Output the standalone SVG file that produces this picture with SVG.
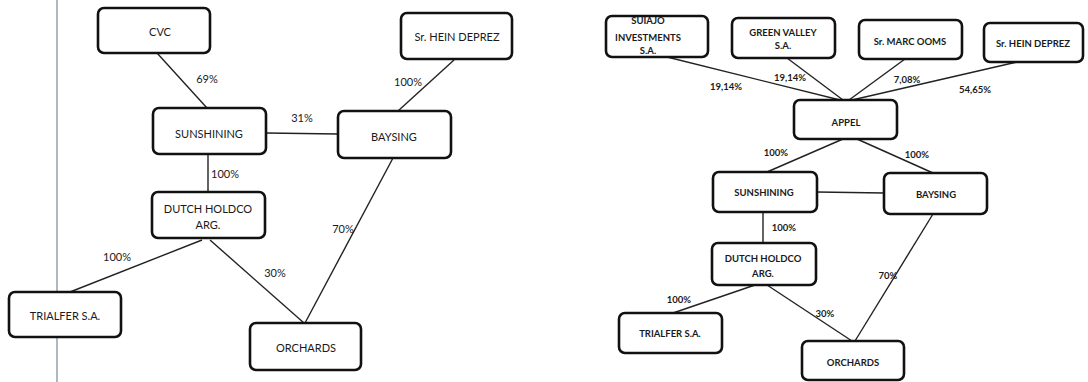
<svg xmlns="http://www.w3.org/2000/svg" width="1088" height="382" viewBox="0 0 1088 382">
<style>
.box{fill:#fff;stroke:#111;stroke-width:2.6}
.ln{stroke:#222;stroke-width:1.4;fill:none}
text{font-family:Lato,"Open Sans","Liberation Sans",sans-serif;fill:#1a1a1a;text-anchor:middle;dominant-baseline:central}
.l{font-size:11px}
.r{font-size:9.5px;font-weight:bold}
</style>
<rect width="1088" height="382" fill="#fff"/>
<line x1="57" y1="0" x2="57" y2="382" stroke="#9aa6b6" stroke-width="1.6"/>
<g id="connectors">
<line class="ln" x1="157" y1="53" x2="207" y2="108"/>
<line class="ln" x1="454" y1="60" x2="398" y2="111"/>
<line class="ln" x1="266" y1="133" x2="338" y2="134"/>
<line class="ln" x1="208" y1="154" x2="208" y2="192"/>
<line class="ln" x1="393" y1="158" x2="305" y2="323"/>
<line class="ln" x1="202" y1="240" x2="70" y2="292"/>
<line class="ln" x1="210" y1="240" x2="304" y2="323"/>
<line class="ln" x1="667" y1="57" x2="840" y2="100"/>
<line class="ln" x1="787" y1="58" x2="843" y2="100"/>
<line class="ln" x1="905" y1="59" x2="849" y2="100"/>
<line class="ln" x1="1017" y1="62" x2="852" y2="100"/>
<line class="ln" x1="843" y1="139" x2="767" y2="172"/>
<line class="ln" x1="857" y1="139" x2="933" y2="173"/>
<line class="ln" x1="817" y1="192" x2="884" y2="193"/>
<line class="ln" x1="763" y1="212" x2="763" y2="243"/>
<line class="ln" x1="933" y1="214" x2="855" y2="341"/>
<line class="ln" x1="755" y1="285" x2="673" y2="313"/>
<line class="ln" x1="767" y1="285" x2="852" y2="341"/>
<g class="l">
<text x="207" y="78">69%</text>
<text x="408" y="81">100%</text>
<text x="302" y="117">31%</text>
<text x="225" y="173">100%</text>
<text x="343" y="228">70%</text>
<text x="117" y="256">100%</text>
<text x="275" y="272">30%</text>
</g>
<g class="r">
<text x="726" y="86">19,14%</text>
<text x="790" y="77">19,14%</text>
<text x="907" y="79">7,08%</text>
<text x="975" y="89">54,65%</text>
<text x="776" y="152">100%</text>
<text x="917" y="154">100%</text>
<text x="784" y="227">100%</text>
<text x="888" y="275">70%</text>
<text x="679" y="299">100%</text>
<text x="825" y="313">30%</text>
</g>
</g>
<g id="L-cvc"><rect class="box" x="98" y="8" width="112" height="45" rx="6"/><text class="l" x="160" y="31">CVC</text></g>
<g id="L-hein"><rect class="box" x="401" y="13" width="111" height="46" rx="6"/><text class="l" x="457" y="36">Sr. HEIN DEPREZ</text></g>
<g id="L-sunshining"><rect class="box" x="153" y="108" width="113" height="46" rx="6"/><text class="l" x="209" y="133">SUNSHINING</text></g>
<g id="L-baysing"><rect class="box" x="338" y="111" width="113" height="47" rx="6"/><text class="l" x="394" y="136">BAYSING</text></g>
<g id="L-dutch"><rect class="box" x="152" y="192" width="113" height="46" rx="6"/><text class="l" x="208" y="208">DUTCH HOLDCO</text><text class="l" x="208" y="224">ARG.</text></g>
<g id="L-trialfer"><rect class="box" x="9" y="292" width="112" height="45" rx="6"/><text class="l" x="65" y="315">TRIALFER S.A.</text></g>
<g id="L-orchards"><rect class="box" x="250" y="323" width="111" height="47" rx="6"/><text class="l" x="306" y="347">ORCHARDS</text></g>
<g id="R-suiajo"><rect class="box" x="606" y="16" width="102" height="41" rx="6"/><text class="r" x="648" y="20">SUIAJO</text><text class="r" x="648" y="37">INVESTMENTS</text><text class="r" x="648" y="50">S.A.</text></g>
<g id="R-green"><rect class="box" x="732" y="18" width="103" height="40" rx="6"/><text class="r" x="783" y="32">GREEN VALLEY</text><text class="r" x="783" y="45">S.A.</text></g>
<g id="R-marc"><rect class="box" x="859" y="20" width="103" height="39" rx="6"/><text class="r" x="910" y="41">Sr. MARC OOMS</text></g>
<g id="R-hein"><rect class="box" x="984" y="23" width="99" height="39" rx="6"/><text class="r" x="1033" y="43">Sr. HEIN DEPREZ</text></g>
<g id="R-appel"><rect class="box" x="794" y="100" width="103" height="39" rx="6"/><text class="r" x="846" y="122">APPEL</text></g>
<g id="R-sunshining"><rect class="box" x="713" y="172" width="104" height="40" rx="6"/><text class="r" x="764" y="192">SUNSHINING</text></g>
<g id="R-baysing"><rect class="box" x="884" y="173" width="103" height="41" rx="6"/><text class="r" x="936" y="194">BAYSING</text></g>
<g id="R-dutch"><rect class="box" x="712" y="243" width="104" height="42" rx="6"/><text class="r" x="763" y="258">DUTCH HOLDCO</text><text class="r" x="763" y="273">ARG.</text></g>
<g id="R-trialfer"><rect class="box" x="619" y="313" width="103" height="40" rx="6"/><text class="r" x="670" y="333">TRIALFER S.A.</text></g>
<g id="R-orchards"><rect class="box" x="802" y="341" width="102" height="39" rx="6"/><text class="r" x="853" y="362">ORCHARDS</text></g>
</svg>
